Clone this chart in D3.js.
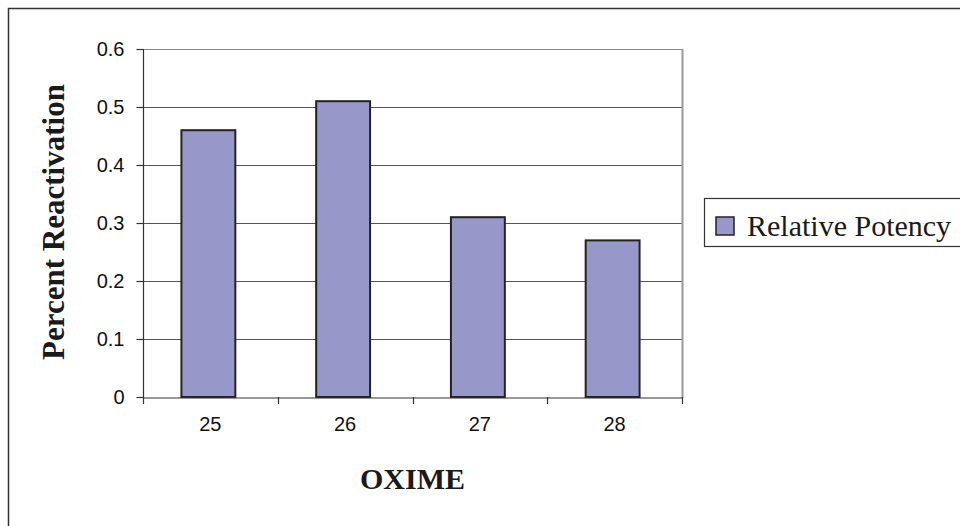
<!DOCTYPE html>
<html>
<head>
<meta charset="utf-8">
<script src="https://cdn.jsdelivr.net/npm/d3@7"></script>
<style>
  html, body { margin: 0; padding: 0; background: #fff; }
  svg { display: block; }
</style>
</head>
<body>
<svg id="chart" width="960" height="526"></svg>
<script>
// Oxime reactivation data
const categories = ["25", "26", "27", "28"];
const values = [0.46, 0.51, 0.31, 0.27];
const yTicks = [0, 0.1, 0.2, 0.3, 0.4, 0.5, 0.6];
const seriesName = "Relative Potency";

const svg = d3.select("#chart");

// chart frame (runs off the right and bottom edges)
svg.append("rect")
  .attr("x", 8.5).attr("y", 8.5)
  .attr("width", 1000).attr("height", 600)
  .attr("fill", "none").attr("stroke", "#333").attr("stroke-width", 1.5);

const plot = { left: 143, right: 682, top: 49, bottom: 397 };

const x = d3.scaleBand().domain(categories)
  .range([plot.left, plot.right]).paddingInner(0.6).paddingOuter(0.3);
const xOuter = d3.scaleBand().domain(categories).range([plot.left, plot.right]);
const y = d3.scaleLinear().domain([0, 0.6]).range([plot.bottom, plot.top]);

// gridlines
svg.append("g").selectAll("line").data(yTicks.filter(t => t > 0))
  .join("line")
  .attr("x1", plot.left).attr("x2", plot.right)
  .attr("y1", d => Math.round(y(d)) + 0.5).attr("y2", d => Math.round(y(d)) + 0.5)
  .attr("stroke", d => d === 0.6 ? "#8a8a8a" : "#555").attr("stroke-width", 1.2);

// right border of plot area
svg.append("line")
  .attr("x1", plot.right + 0.5).attr("x2", plot.right + 0.5)
  .attr("y1", plot.top).attr("y2", plot.bottom + 1)
  .attr("stroke", "#999").attr("stroke-width", 2);

// bars
svg.append("g").selectAll("rect").data(values)
  .join("rect")
  .attr("x", (d, i) => x(categories[i]) - 2)
  .attr("width", x.bandwidth())
  .attr("y", d => y(d))
  .attr("height", d => y(0) - y(d))
  .attr("fill", "#9897c9")
  .attr("stroke", "#222").attr("stroke-width", 2);

// y axis
const yAxis = d3.axisLeft(y).tickValues(yTicks).tickSize(7).tickPadding(12)
  .tickFormat(d => d === 0 ? "0" : d3.format(".1f")(d));
const gy = svg.append("g").attr("transform", `translate(${plot.left + 0.5},0)`).call(yAxis);
gy.select(".domain").attr("stroke", "#333").attr("stroke-width", 1.2)
  .attr("d", `M-0,${plot.top}V${plot.bottom}`);
gy.selectAll(".tick line").attr("stroke", "#333").attr("stroke-width", 1.2);
gy.selectAll(".tick text").attr("font-family", "Arial, 'Liberation Sans', sans-serif")
  .attr("font-size", 20).attr("fill", "#111");

// x axis
const xAxis = d3.axisBottom(xOuter).tickSize(0).tickPadding(19);
const gx = svg.append("g").attr("transform", `translate(0,${plot.bottom + 0.5})`).call(xAxis);
gx.select(".domain").attr("stroke", "#333").attr("stroke-width", 1.2);
gx.selectAll(".tick text").attr("font-family", "Arial, 'Liberation Sans', sans-serif")
  .attr("font-size", 20).attr("fill", "#111");
// category separator ticks
const sepTicks = categories.map(c => xOuter(c)).concat([plot.right]);
svg.append("g").selectAll("line").data(sepTicks)
  .join("line")
  .attr("x1", d => Math.round(d) + 0.5).attr("x2", d => Math.round(d) + 0.5)
  .attr("y1", plot.bottom).attr("y2", plot.bottom + 7)
  .attr("stroke", "#333").attr("stroke-width", 1.2);

// axis titles
svg.append("text")
  .attr("transform", `translate(64,${(plot.top + plot.bottom) / 2 - 1}) rotate(-90)`)
  .attr("text-anchor", "middle")
  .attr("font-family", "'Liberation Serif', 'Times New Roman', serif")
  .attr("font-weight", "bold").attr("font-size", 31).attr("fill", "#1a1a1a")
  .text("Percent Reactivation");

svg.append("text")
  .attr("x", (plot.left + plot.right) / 2).attr("y", 489)
  .attr("text-anchor", "middle")
  .attr("font-family", "'Liberation Serif', 'Times New Roman', serif")
  .attr("font-weight", "bold").attr("font-size", 30).attr("fill", "#1a1a1a")
  .text("OXIME");

// legend
const legend = svg.append("g");
legend.append("rect")
  .attr("x", 704.5).attr("y", 198.5).attr("width", 300).attr("height", 48)
  .attr("fill", "#fff").attr("stroke", "#333").attr("stroke-width", 1.2);
legend.append("rect")
  .attr("x", 716).attr("y", 217).attr("width", 18).attr("height", 18)
  .attr("fill", "#9897c9").attr("stroke", "#222").attr("stroke-width", 1.5);
legend.append("text")
  .attr("x", 747).attr("y", 236)
  .attr("font-family", "'Liberation Serif', 'Times New Roman', serif")
  .attr("font-size", 30).attr("fill", "#1a1a1a")
  .text(seriesName);
</script>
</body>
</html>
